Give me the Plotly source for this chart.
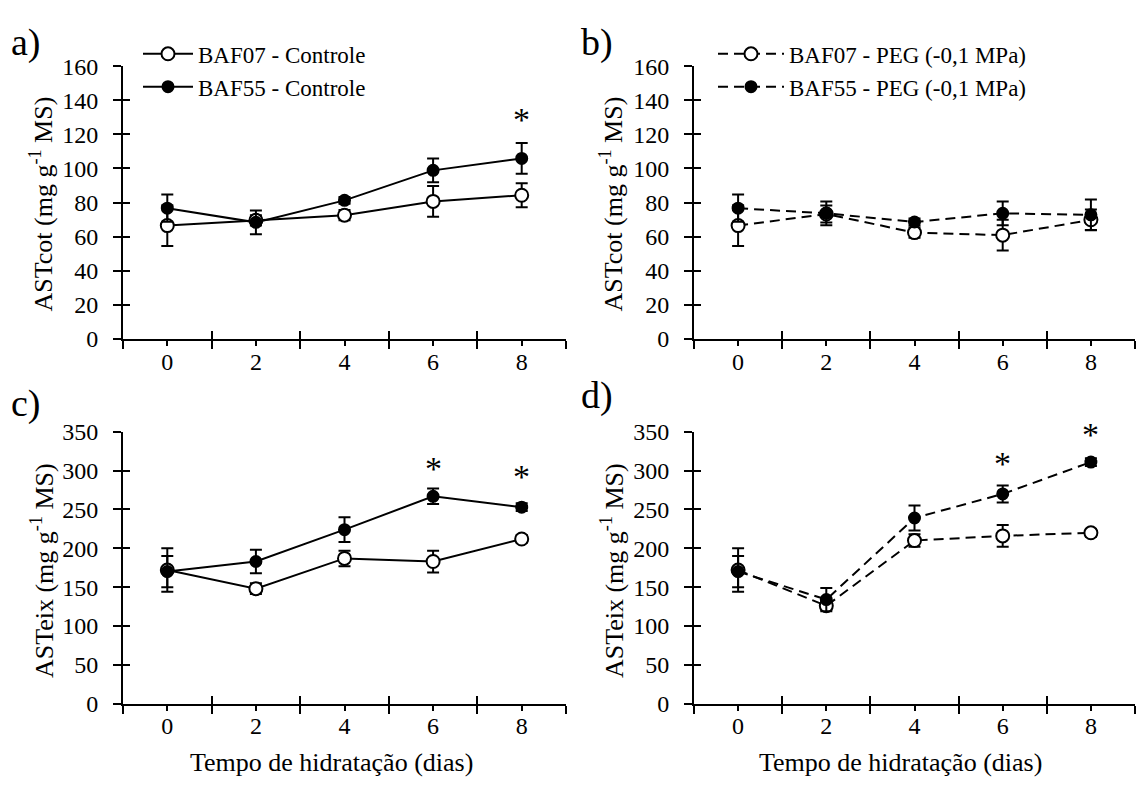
import plotly.graph_objects as go

# ---------------- data ----------------
days = [0, 2, 4, 6, 8]

a_baf07 = [66.5, 69.6, 72.6, 80.7, 84.3]
a_baf07_err = [12, 3, 3, 9, 7]
a_baf55 = [76.7, 68.4, 81.3, 98.9, 105.9]
a_baf55_err = [8, 7, 2, 7, 9]

b_baf07 = [66.5, 73.3, 62.4, 60.9, 69.9]
b_baf07_err = [12, 5, 3, 9, 6]
b_baf55 = [76.7, 73.7, 68.6, 73.7, 72.8]
b_baf55_err = [8, 7, 2, 7, 9]

c_baf07 = [172, 148, 187, 183, 212]
c_baf07_err = [28, 7, 10, 14, 5]
c_baf55 = [170, 183, 224, 267, 253]
c_baf55_err = [20, 15, 16, 10, 5]

d_baf07 = [172, 126, 210, 216, 220]
d_baf07_err = [28, 5, 8, 14, 5]
d_baf55 = [170, 134, 239, 270, 311]
d_baf55_err = [20, 15, 16, 11, 5]

# significance marks: (panel, day, y)
stars = [(1, 8, 129), (3, 6, 303), (3, 8, 292), (4, 6, 309), (4, 8, 347)]

names_a = ["BAF07 - Controle", "BAF55 - Controle"]
names_b = ["BAF07 - PEG (-0,1 MPa)", "BAF55 - PEG (-0,1 MPa)"]

FONT = "Times New Roman, Liberation Serif, DejaVu Serif, serif"
W, H = 1138, 794

fig = go.Figure()

def add_pair(idx, y07, e07, y55, e55, dash, names, legend):
    ax = "" if idx == 1 else str(idx)
    show = names is not None
    for vals, errs, filled, k in [(y07, e07, False, 0), (y55, e55, True, 1)]:
        fig.add_trace(go.Scatter(
            x=days, y=vals, mode="lines+markers",
            xaxis="x" + ax, yaxis="y" + ax,
            line=dict(color="black", width=2, dash=dash),
            marker=dict(symbol="circle", size=11 if filled else 13,
                        color="black" if filled else "white",
                        line=dict(color="black", width=2)),
            error_y=dict(type="data", array=errs, visible=True,
                         color="black", thickness=2, width=6),
            name=names[k] if show else "",
            showlegend=show, legend=legend, legendgroup=f"g{idx}{k}",
            hoverinfo="skip"))

add_pair(1, a_baf07, a_baf07_err, a_baf55, a_baf55_err, "solid", names_a, "legend")
add_pair(2, b_baf07, b_baf07_err, b_baf55, b_baf55_err, "10px,6px", names_b, "legend2")
add_pair(3, c_baf07, c_baf07_err, c_baf55, c_baf55_err, "solid", None, "legend")
add_pair(4, d_baf07, d_baf07_err, d_baf55, d_baf55_err, "10px,6px", None, "legend")

def px_x(p):
    return p / W

def px_y(p):
    return 1 - p / H

xdoms = {1: (123, 566), 2: (694, 1135), 3: (123, 566), 4: (694, 1135)}
ydoms = {1: (55, 337), 2: (55, 337), 3: (433, 714), 4: (433, 714)}
yranges = {1: (0, 160, 20), 2: (0, 160, 20), 3: (0, 350, 50), 4: (0, 350, 50)}

layout = dict(
    width=W, height=H, margin=dict(l=0, r=0, t=0, b=0),
    paper_bgcolor="white", plot_bgcolor="white",
    font=dict(family=FONT, color="black", size=24),
)

tickfont = dict(family=FONT, size=24, color="black")

for i in range(1, 5):
    ax = "" if i == 1 else str(i)
    ov = str(i + 4)
    x0, x1 = xdoms[i]
    yt, yb = ydoms[i]
    ylo, yhi, ydt = yranges[i]
    yticks = list(range(ylo, yhi + 1, ydt))
    layout["xaxis" + ax] = dict(
        domain=[px_x(x0), px_x(x1)], anchor="y" + ax, range=[-1, 9],
        tickmode="array", tickvals=[0, 2, 4, 6, 8],
        ticks="outside", ticklen=5, tickwidth=2, tickcolor="black",
        minor=dict(tickmode="array", tickvals=[-1, 1, 3, 5, 7, 9],
                   ticks="outside", ticklen=8, tickwidth=2, tickcolor="black"),
        showline=True, linewidth=2, linecolor="black",
        showgrid=False, zeroline=False, tickfont=tickfont,
        ticklabelstandoff=-5, fixedrange=True)
    layout["yaxis" + ax] = dict(
        domain=[px_y(yb), px_y(yt)], anchor="x" + ax, range=[ylo, yhi],
        tickmode="array", tickvals=yticks,
        ticks="outside", ticklen=8, tickwidth=2, tickcolor="black",
        showline=True, linewidth=2, linecolor="black",
        showgrid=False, zeroline=False, tickfont=tickfont,
        ticklabelstandoff=10, fixedrange=True)
    # overlay axes for the inner half of the crossing ticks
    layout["xaxis" + ov] = dict(
        overlaying="x" + ax, anchor="y" + ax, range=[-1, 9], side="bottom",
        tickmode="array", tickvals=[-1, 1, 3, 5, 7, 9],
        ticks="inside", ticklen=8, tickwidth=2, tickcolor="black",
        showticklabels=False, showline=False, showgrid=False, zeroline=False,
        fixedrange=True)
    layout["yaxis" + ov] = dict(
        overlaying="y" + ax, anchor="x" + ax, range=[ylo, yhi], side="left",
        tickmode="array", tickvals=yticks,
        ticks="inside", ticklen=7, tickwidth=2, tickcolor="black",
        showticklabels=False, showline=False, showgrid=False, zeroline=False,
        fixedrange=True)
    fig.add_trace(go.Scatter(x=[None], y=[None], xaxis="x" + ov, yaxis="y" + ax,
                             showlegend=False, hoverinfo="skip"))
    fig.add_trace(go.Scatter(x=[None], y=[None], xaxis="x" + ax, yaxis="y" + ov,
                             showlegend=False, hoverinfo="skip"))

layout["legend"] = dict(
    x=px_x(138), y=px_y(20), xanchor="left", yanchor="top",
    font=dict(family=FONT, size=23, color="black"),
    bgcolor="rgba(0,0,0,0)", borderwidth=0, itemwidth=50,
    traceorder="grouped", tracegroupgap=0)
layout["legend2"] = dict(
    x=px_x(713), y=px_y(20), xanchor="left", yanchor="top",
    font=dict(family=FONT, size=23, color="black"),
    bgcolor="rgba(0,0,0,0)", borderwidth=0, itemwidth=66,
    traceorder="grouped", tracegroupgap=0)

annotations = []
# panel letters
for txt, xp, yp in [("a)", 26, 31), ("b)", 597, 31), ("c)", 26, 404), ("d)", 597, 395)]:
    annotations.append(dict(text=txt, x=px_x(xp), y=px_y(yp), xref="paper", yref="paper",
                            showarrow=False, font=dict(family=FONT, size=38, color="black"),
                            xanchor="center", yanchor="middle"))
# y-axis titles
for txt, xp, yp in [("ASTcot (mg g<sup>-1</sup> MS)", 42, 198),
                    ("ASTcot (mg g<sup>-1</sup> MS)", 612, 198),
                    ("ASTeix (mg g<sup>-1</sup> MS)", 42, 577),
                    ("ASTeix (mg g<sup>-1</sup> MS)", 612, 577)]:
    annotations.append(dict(text=txt, x=px_x(xp), y=px_y(yp), xref="paper", yref="paper",
                            showarrow=False, textangle=-90,
                            font=dict(family=FONT, size=26, color="black"),
                            xanchor="center", yanchor="middle"))
# x-axis titles
for xp in [331, 900]:
    annotations.append(dict(text="Tempo de hidratação (dias)", x=px_x(xp), y=px_y(775),
                            xref="paper", yref="paper", showarrow=False,
                            font=dict(family=FONT, size=26, color="black"),
                            xanchor="center", yanchor="middle"))
# significance stars
for p, d, yv in stars:
    ax = "" if p == 1 else str(p)
    annotations.append(dict(text="*", x=d, y=yv, xref="x" + ax, yref="y" + ax,
                            showarrow=False, font=dict(family=FONT, size=34, color="black"),
                            xanchor="center", yanchor="middle", yshift=0))

layout["annotations"] = annotations
fig.update_layout(**layout)

fig.write_html("out.html")
